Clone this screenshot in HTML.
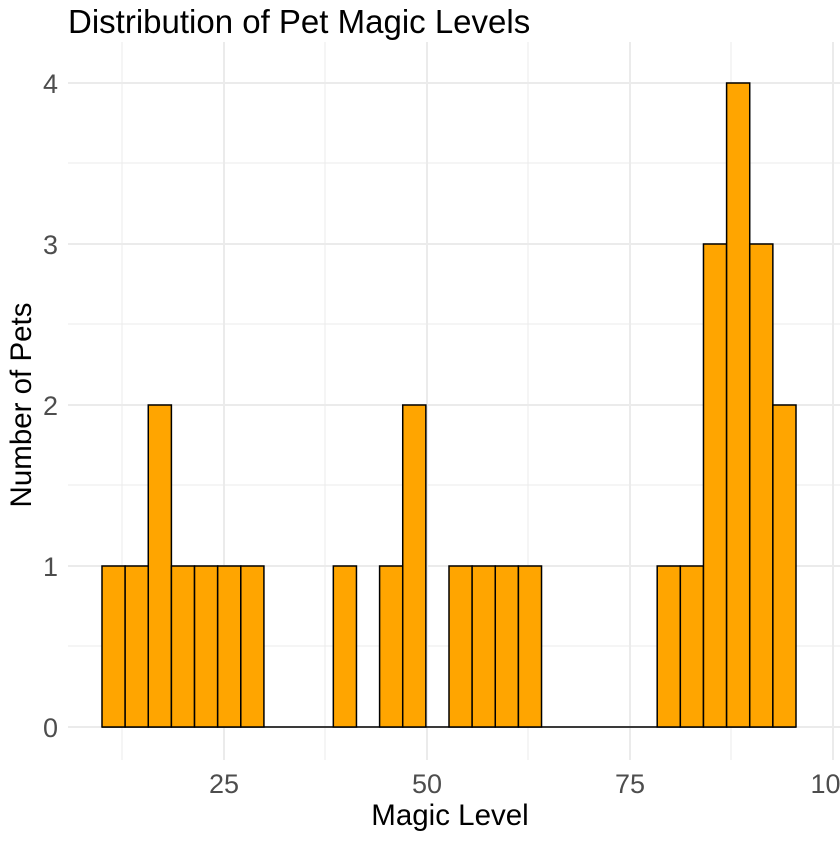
<!DOCTYPE html>
<html><head><style>body{margin:0;background:#fff}</style></head><body>
<svg width="840" height="840" xmlns="http://www.w3.org/2000/svg" font-family="Liberation Sans, sans-serif">
<rect width="840" height="840" fill="#fff"/>
<g stroke="#ebebeb" stroke-width="1">
<line x1="68" x2="840" y1="646" y2="646"/><line x1="68" x2="840" y1="485" y2="485"/><line x1="68" x2="840" y1="324" y2="324"/><line x1="68" x2="840" y1="163" y2="163"/>
<line x1="122" x2="122" y1="42" y2="760"/><line x1="325" x2="325" y1="42" y2="760"/><line x1="528" x2="528" y1="42" y2="760"/><line x1="731" x2="731" y1="42" y2="760"/>
</g>
<g stroke="#ebebeb" stroke-width="2">
<line x1="68" x2="840" y1="727" y2="727"/><line x1="68" x2="840" y1="566" y2="566"/><line x1="68" x2="840" y1="405" y2="405"/><line x1="68" x2="840" y1="244" y2="244"/><line x1="68" x2="840" y1="83" y2="83"/>
<line x1="224" x2="224" y1="42" y2="760"/><line x1="427" x2="427" y1="42" y2="760"/><line x1="630" x2="630" y1="42" y2="760"/><line x1="833" x2="833" y1="42" y2="760"/>
</g>
<g fill="#FFA500" stroke="#000" stroke-width="1.5">
<line x1="102" x2="796" y1="727" y2="727"/>
<rect x="102" y="566" width="23.13" height="161"/>
<rect x="125.13" y="566" width="23.13" height="161"/>
<rect x="148.27" y="405" width="23.13" height="322"/>
<rect x="171.4" y="566" width="23.13" height="161"/>
<rect x="194.53" y="566" width="23.13" height="161"/>
<rect x="217.67" y="566" width="23.13" height="161"/>
<rect x="240.8" y="566" width="23.13" height="161"/>
<rect x="333.33" y="566" width="23.13" height="161"/>
<rect x="379.6" y="566" width="23.13" height="161"/>
<rect x="402.73" y="405" width="23.13" height="322"/>
<rect x="449" y="566" width="23.13" height="161"/>
<rect x="472.13" y="566" width="23.13" height="161"/>
<rect x="495.27" y="566" width="23.13" height="161"/>
<rect x="518.4" y="566" width="23.13" height="161"/>
<rect x="657.2" y="566" width="23.13" height="161"/>
<rect x="680.33" y="566" width="23.13" height="161"/>
<rect x="703.47" y="244" width="23.13" height="483"/>
<rect x="726.6" y="83" width="23.13" height="644"/>
<rect x="749.73" y="244" width="23.13" height="483"/>
<rect x="772.87" y="405" width="23.13" height="322"/>
</g>
<g fill="#4d4d4d" font-size="27" text-anchor="end">
<text x="58" y="737">0</text><text x="58" y="576">1</text><text x="58" y="415">2</text><text x="58" y="254">3</text><text x="58" y="93">4</text>
</g>
<g fill="#4d4d4d" font-size="27" text-anchor="middle">
<text x="224" y="793">25</text><text x="427" y="793">50</text><text x="630" y="793">75</text><text x="833" y="793">100</text>
</g>
<text x="450" y="825" font-size="29.5" text-anchor="middle" fill="#000">Magic Level</text>
<text transform="translate(31,405) rotate(-90)" font-size="29.5" text-anchor="middle" fill="#000">Number of Pets</text>
<text x="68" y="33" font-size="33" fill="#000">Distribution of Pet Magic Levels</text>
</svg>
</body></html>
